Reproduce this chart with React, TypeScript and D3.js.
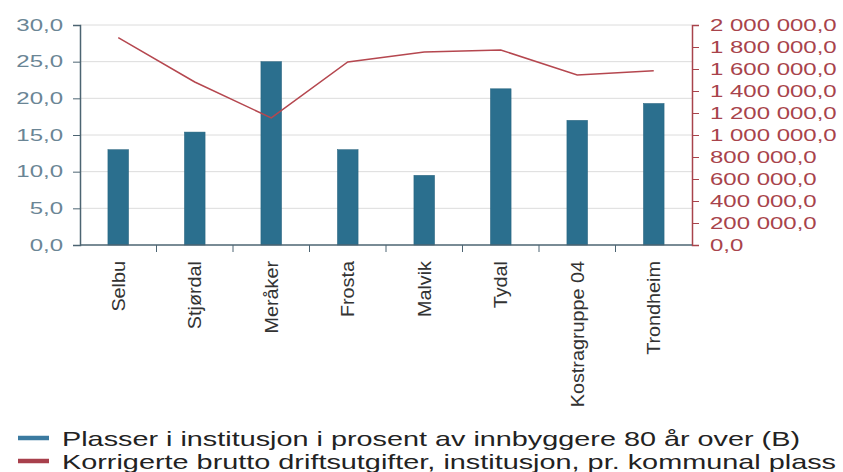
import React, { useEffect, useRef } from 'react';
import * as d3 from 'd3';

const categories = ['Selbu', 'Stjørdal', 'Meråker', 'Frosta', 'Malvik', 'Tydal', 'Kostragruppe 04', 'Trondheim'];
const plasser = [13.0, 15.4, 25.0, 13.0, 9.5, 21.3, 17.0, 19.3];
const utgifter = [1885000, 1482000, 1155000, 1664000, 1755000, 1773000, 1545000, 1585000];
const leftTicks = [0, 5, 10, 15, 20, 25, 30];
const rightTicks = [0, 200000, 400000, 600000, 800000, 1000000, 1200000, 1400000, 1600000, 1800000, 2000000];
const legendLabels = [
  'Plasser i institusjon i prosent av innbyggere 80 år over (B)',
  'Korrigerte brutto driftsutgifter, institusjon, pr. kommunal plass',
];

const width = 843;
const height = 472;
const margin = { top: 25, right: 151, bottom: 227, left: 80 };
const barColor = '#2b6f8e';
const lineColor = '#b5474f';
const leftColor = '#6a8595';
const rightColor = '#a8434b';
const font = '"Liberation Sans", Arial, sans-serif';

const nb = d3.formatLocale({ decimal: ',', thousands: ' ', grouping: [3], currency: ['', ' kr'] });
const fmt = nb.format(',.1f');

function App() {
  const ref = useRef<SVGSVGElement | null>(null);

  useEffect(() => {
    document.body.style.margin = '0';
    const svg = d3.select(ref.current);
    svg.selectAll('*').remove();

    const x = d3.scaleBand().domain(categories).range([margin.left, width - margin.right]);
    const yL = d3.scaleLinear().domain([0, 30]).range([height - margin.bottom, margin.top]);
    const yR = d3.scaleLinear().domain([0, 2000000]).range([height - margin.bottom, margin.top]);

    // gridlines
    svg.append('g')
      .selectAll('line')
      .data(leftTicks.slice(1))
      .enter()
      .append('line')
      .attr('x1', margin.left)
      .attr('x2', width - margin.right)
      .attr('y1', (d) => yL(d))
      .attr('y2', (d) => yL(d))
      .style('stroke', '#dcdcdc')
      .style('stroke-width', 1);

    // bars
    const bw = x.bandwidth() * 0.27;
    svg.append('g')
      .selectAll('rect')
      .data(plasser)
      .enter()
      .append('rect')
      .attr('x', (_, i) => (x(categories[i]) as number) + x.bandwidth() / 2 - bw / 2)
      .attr('width', bw)
      .attr('y', (d) => yL(d))
      .attr('height', (d) => yL(0) - yL(d))
      .style('fill', barColor)
      .style('stroke', '#24617c')
      .style('stroke-width', 0.5);

    // line
    const line = d3.line<number>()
      .x((_, i) => (x(categories[i]) as number) + x.bandwidth() / 2)
      .y((d) => yR(d));
    svg.append('path')
      .datum(utgifter)
      .attr('d', line)
      .style('fill', 'none')
      .style('stroke', lineColor)
      .style('stroke-width', 1.5);

    // stretched tick text, like the reference
    const stretch = function (this: any) {
      const tx = +(this.getAttribute('x') || 0);
      return `translate(${tx},0) scale(1.5,1) translate(${-tx},0)`;
    };

    // left axis
    const left = svg.append('g')
      .attr('transform', `translate(${margin.left},0)`)
      .call(d3.axisLeft(yL).tickValues(leftTicks).tickFormat((d) => fmt(d as number)).tickSizeOuter(0).tickSize(7).tickPadding(10));
    left.select('.domain').style('stroke', '#4c6472').style('stroke-width', 1.5);
    left.selectAll('.tick line').style('stroke', '#4c6472');
    left.selectAll('.tick text')
      .style('fill', leftColor)
      .style('font-family', font)
      .style('font-size', '16px')
      .attr('transform', stretch);

    // right axis
    const right = svg.append('g')
      .attr('transform', `translate(${width - margin.right},0)`)
      .call(d3.axisRight(yR).tickValues(rightTicks).tickFormat((d) => fmt(d as number)).tickSizeOuter(0).tickSize(7).tickPadding(11));
    right.select('.domain').style('stroke', rightColor).style('stroke-width', 1.5);
    right.selectAll('.tick line').style('stroke', rightColor);
    right.selectAll('.tick text')
      .style('fill', rightColor)
      .style('font-family', font)
      .style('font-size', '16px')
      .attr('transform', stretch);

    // bottom axis
    const bottom = svg.append('g').attr('transform', `translate(0,${height - margin.bottom})`);
    bottom.append('line')
      .attr('x1', margin.left)
      .attr('x2', width - margin.right)
      .style('stroke', '#4c6472')
      .style('stroke-width', 1.5);
    bottom.selectAll('line.tk')
      .data(categories.slice(1))
      .enter()
      .append('line')
      .attr('class', 'tk')
      .attr('x1', (d) => x(d) as number)
      .attr('x2', (d) => x(d) as number)
      .attr('y1', 0)
      .attr('y2', 7)
      .style('stroke', '#4c6472');
    bottom.selectAll('text')
      .data(categories)
      .enter()
      .append('text')
      .attr('text-anchor', 'end')
      .attr('dy', '0.36em')
      .attr('transform', (d) => `translate(${(x(d) as number) + x.bandwidth() / 2},16) rotate(-90) scale(1.1,1)`)
      .style('font-family', font)
      .style('font-size', '18px')
      .style('fill', '#333')
      .text((d) => d);

    // legend
    const legendColors = ['#3b7aa0', '#a8404c'];
    const legendWidths = [738, 774];
    const lg = svg.append('g');
    legendLabels.forEach((label, i) => {
      const yy = 438 + i * 23;
      lg.append('line')
        .attr('x1', 18).attr('x2', 49)
        .attr('y1', yy).attr('y2', yy)
        .style('stroke', legendColors[i])
        .style('stroke-width', 4.5);
      lg.append('text')
        .attr('x', 62)
        .attr('y', yy)
        .attr('dy', '0.36em')
        .attr('textLength', legendWidths[i])
        .attr('lengthAdjust', 'spacingAndGlyphs')
        .style('font-family', font)
        .style('font-size', '21px')
        .style('fill', '#222')
        .text(label);
    });
  }, []);

  return (
    <svg ref={ref} width={width} height={height} style={{ display: 'block', background: '#fff' }} />
  );
}

export default App;
